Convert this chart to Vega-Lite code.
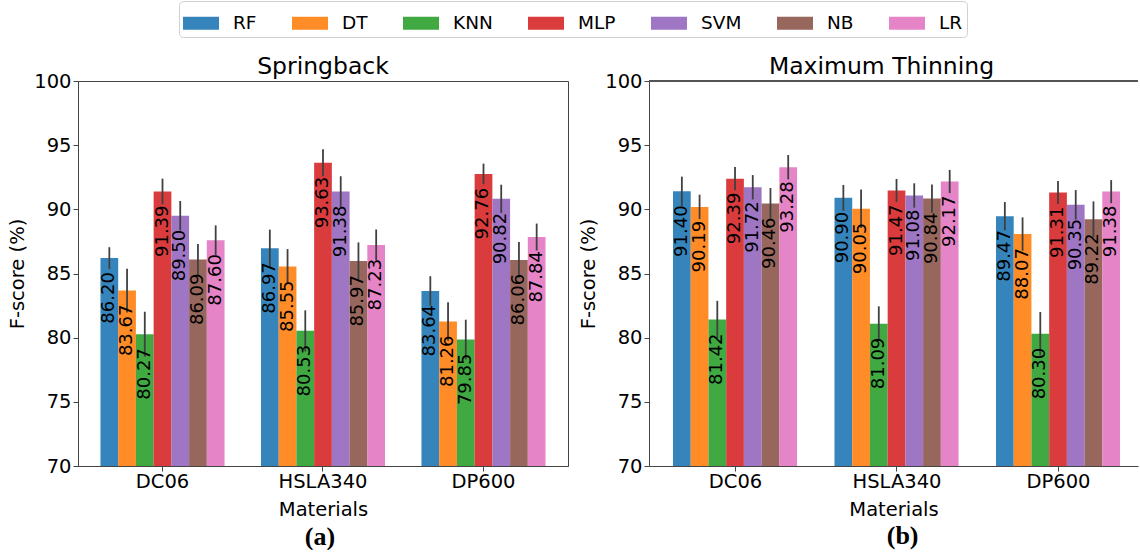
{
  "$schema": "https://vega.github.io/schema/vega-lite/v6.json",
  "padding": {"left": 7, "top": 0, "right": 0, "bottom": 0},
  "background": "white",
  "data": {"values": [
    {"task": "Springback", "material": "DC06", "model": "RF", "score": 86.20, "lo": 85.35, "hi": 87.05},
    {"task": "Springback", "material": "DC06", "model": "DT", "score": 83.67, "lo": 81.97, "hi": 85.37},
    {"task": "Springback", "material": "DC06", "model": "KNN", "score": 80.27, "lo": 78.52, "hi": 82.02},
    {"task": "Springback", "material": "DC06", "model": "MLP", "score": 91.39, "lo": 90.39, "hi": 92.39},
    {"task": "Springback", "material": "DC06", "model": "SVM", "score": 89.50, "lo": 88.35, "hi": 90.65},
    {"task": "Springback", "material": "DC06", "model": "NB", "score": 86.09, "lo": 84.89, "hi": 87.29},
    {"task": "Springback", "material": "DC06", "model": "LR", "score": 87.60, "lo": 86.45, "hi": 88.75},
    {"task": "Springback", "material": "HSLA340", "model": "RF", "score": 86.97, "lo": 85.52, "hi": 88.42},
    {"task": "Springback", "material": "HSLA340", "model": "DT", "score": 85.55, "lo": 84.20, "hi": 86.90},
    {"task": "Springback", "material": "HSLA340", "model": "KNN", "score": 80.53, "lo": 78.93, "hi": 82.13},
    {"task": "Springback", "material": "HSLA340", "model": "MLP", "score": 93.63, "lo": 92.58, "hi": 94.68},
    {"task": "Springback", "material": "HSLA340", "model": "SVM", "score": 91.38, "lo": 90.18, "hi": 92.58},
    {"task": "Springback", "material": "HSLA340", "model": "NB", "score": 85.97, "lo": 84.52, "hi": 87.42},
    {"task": "Springback", "material": "HSLA340", "model": "LR", "score": 87.23, "lo": 86.03, "hi": 88.43},
    {"task": "Springback", "material": "DP600", "model": "RF", "score": 83.64, "lo": 82.49, "hi": 84.79},
    {"task": "Springback", "material": "DP600", "model": "DT", "score": 81.26, "lo": 79.76, "hi": 82.76},
    {"task": "Springback", "material": "DP600", "model": "KNN", "score": 79.85, "lo": 78.30, "hi": 81.40},
    {"task": "Springback", "material": "DP600", "model": "MLP", "score": 92.76, "lo": 91.96, "hi": 93.56},
    {"task": "Springback", "material": "DP600", "model": "SVM", "score": 90.82, "lo": 89.72, "hi": 91.92},
    {"task": "Springback", "material": "DP600", "model": "NB", "score": 86.06, "lo": 84.66, "hi": 87.46},
    {"task": "Springback", "material": "DP600", "model": "LR", "score": 87.84, "lo": 86.79, "hi": 88.89},
    {"task": "Maximum Thinning", "material": "DC06", "model": "RF", "score": 91.40, "lo": 90.25, "hi": 92.55},
    {"task": "Maximum Thinning", "material": "DC06", "model": "DT", "score": 90.19, "lo": 89.24, "hi": 91.14},
    {"task": "Maximum Thinning", "material": "DC06", "model": "KNN", "score": 81.42, "lo": 79.97, "hi": 82.87},
    {"task": "Maximum Thinning", "material": "DC06", "model": "MLP", "score": 92.39, "lo": 91.49, "hi": 93.29},
    {"task": "Maximum Thinning", "material": "DC06", "model": "SVM", "score": 91.72, "lo": 90.77, "hi": 92.67},
    {"task": "Maximum Thinning", "material": "DC06", "model": "NB", "score": 90.46, "lo": 89.26, "hi": 91.66},
    {"task": "Maximum Thinning", "material": "DC06", "model": "LR", "score": 93.28, "lo": 92.33, "hi": 94.23},
    {"task": "Maximum Thinning", "material": "HSLA340", "model": "RF", "score": 90.90, "lo": 89.90, "hi": 91.90},
    {"task": "Maximum Thinning", "material": "HSLA340", "model": "DT", "score": 90.05, "lo": 88.55, "hi": 91.55},
    {"task": "Maximum Thinning", "material": "HSLA340", "model": "KNN", "score": 81.09, "lo": 79.74, "hi": 82.44},
    {"task": "Maximum Thinning", "material": "HSLA340", "model": "MLP", "score": 91.47, "lo": 90.57, "hi": 92.37},
    {"task": "Maximum Thinning", "material": "HSLA340", "model": "SVM", "score": 91.08, "lo": 90.13, "hi": 92.03},
    {"task": "Maximum Thinning", "material": "HSLA340", "model": "NB", "score": 90.84, "lo": 89.74, "hi": 91.94},
    {"task": "Maximum Thinning", "material": "HSLA340", "model": "LR", "score": 92.17, "lo": 91.27, "hi": 93.07},
    {"task": "Maximum Thinning", "material": "DP600", "model": "RF", "score": 89.47, "lo": 88.37, "hi": 90.57},
    {"task": "Maximum Thinning", "material": "DP600", "model": "DT", "score": 88.07, "lo": 86.77, "hi": 89.37},
    {"task": "Maximum Thinning", "material": "DP600", "model": "KNN", "score": 80.30, "lo": 78.60, "hi": 82.00},
    {"task": "Maximum Thinning", "material": "DP600", "model": "MLP", "score": 91.31, "lo": 90.41, "hi": 92.21},
    {"task": "Maximum Thinning", "material": "DP600", "model": "SVM", "score": 90.35, "lo": 89.20, "hi": 91.50},
    {"task": "Maximum Thinning", "material": "DP600", "model": "NB", "score": 89.22, "lo": 87.82, "hi": 90.62},
    {"task": "Maximum Thinning", "material": "DP600", "model": "LR", "score": 91.38, "lo": 90.48, "hi": 92.28}
  ]},
  "spacing": 9,
  "resolve": {"scale": {"color": "shared"}, "legend": {"color": "shared"}},
  "hconcat": [
    {
      "title": {"text": "(a)", "orient": "bottom", "font": "Liberation Serif", "fontSize": 26, "fontWeight": "bold", "offset": 4, "anchor": "middle", "dx": 32},
      "vconcat": [
        {
          "width": 490,
          "height": 385,
          "title": {"text": "Springback", "offset": -7},
          "transform": [{"filter": "datum.task === 'Springback'"}],
          "layer": [
            {
              "mark": {"type": "bar", "opacity": 0.9, "clip": true},
              "encoding": {
                "x": {"field": "material", "type": "nominal", "sort": ["DC06", "HSLA340", "DP600"], "title": "Materials",
                      "scale": {"paddingInner": 0.227, "paddingOuter": 0.14}, "axis": {"labelAngle": 0}},
                "xOffset": {"field": "model", "type": "nominal", "sort": ["RF", "DT", "KNN", "MLP", "SVM", "NB", "LR"],
                            "scale": {"paddingInner": 0, "paddingOuter": 0}},
                "y": {"field": "score", "type": "quantitative", "title": "F-score (%)",
                      "scale": {"domain": [70, 100], "zero": false},
                      "axis": {"values": [70, 75, 80, 85, 90, 95, 100]}},
                "color": {"field": "model", "type": "nominal", "sort": ["RF", "DT", "KNN", "MLP", "SVM", "NB", "LR"],
                          "scale": {"domain": ["RF", "DT", "KNN", "MLP", "SVM", "NB", "LR"],
                                    "range": ["#1f77b4", "#ff7f0e", "#2ca02c", "#d62728", "#9467bd", "#8c564b", "#e377c2"]},
                          "legend": {"title": null}}
              }
            },
            {
              "mark": {"type": "rule", "color": "#404040", "strokeWidth": 1.8},
              "encoding": {
                "x": {"field": "material", "type": "nominal", "sort": ["DC06", "HSLA340", "DP600"], "title": "Materials",
                      "scale": {"paddingInner": 0.227, "paddingOuter": 0.14}, "axis": {"labelAngle": 0}},
                "xOffset": {"field": "model", "type": "nominal", "sort": ["RF", "DT", "KNN", "MLP", "SVM", "NB", "LR"],
                            "scale": {"paddingInner": 0, "paddingOuter": 0}},
                "y": {"field": "lo", "type": "quantitative", "title": "F-score (%)", "scale": {"domain": [70, 100], "zero": false}},
                "y2": {"field": "hi"}
              }
            },
            {
              "mark": {"type": "text", "angle": 270, "align": "right", "baseline": "middle", "dx": -14, "fontSize": 18, "font": "DejaVu Sans", "color": "black"},
              "encoding": {
                "x": {"field": "material", "type": "nominal", "sort": ["DC06", "HSLA340", "DP600"], "title": "Materials",
                      "scale": {"paddingInner": 0.227, "paddingOuter": 0.14}, "axis": {"labelAngle": 0}},
                "xOffset": {"field": "model", "type": "nominal", "sort": ["RF", "DT", "KNN", "MLP", "SVM", "NB", "LR"],
                            "scale": {"paddingInner": 0, "paddingOuter": 0}},
                "y": {"field": "score", "type": "quantitative", "title": "F-score (%)", "scale": {"domain": [70, 100], "zero": false}},
                "text": {"field": "score", "type": "quantitative", "format": ".2f"}
              }
            }
          ]
        }
      ]
    },
    {
      "title": {"text": "(b)", "orient": "bottom", "font": "Liberation Serif", "fontSize": 26, "fontWeight": "bold", "offset": 4, "anchor": "middle", "dx": 44},
      "vconcat": [
        {
          "width": 489,
          "height": 385,
          "view": {"stroke": null},
          "title": {"text": "Maximum Thinning", "dx": -12, "offset": -7},
          "transform": [{"filter": "datum.task === 'Maximum Thinning'"}],
          "layer": [
            {
              "mark": {"type": "bar", "opacity": 0.9, "clip": true},
              "encoding": {
                "x": {"field": "material", "type": "nominal", "sort": ["DC06", "HSLA340", "DP600"], "title": "Materials",
                      "scale": {"paddingInner": 0.226, "paddingOuter": 0.127, "align": 0.585}, "axis": {"labelAngle": 0}},
                "xOffset": {"field": "model", "type": "nominal", "sort": ["RF", "DT", "KNN", "MLP", "SVM", "NB", "LR"],
                            "scale": {"paddingInner": 0, "paddingOuter": 0}},
                "y": {"field": "score", "type": "quantitative", "title": "F-score (%)",
                      "scale": {"domain": [70, 100], "zero": false},
                      "axis": {"values": [70, 75, 80, 85, 90, 95, 100]}},
                "color": {"field": "model", "type": "nominal", "sort": ["RF", "DT", "KNN", "MLP", "SVM", "NB", "LR"],
                          "scale": {"domain": ["RF", "DT", "KNN", "MLP", "SVM", "NB", "LR"],
                                    "range": ["#1f77b4", "#ff7f0e", "#2ca02c", "#d62728", "#9467bd", "#8c564b", "#e377c2"]},
                          "legend": {"title": null}}
              }
            },
            {
              "mark": {"type": "rule", "color": "#404040", "strokeWidth": 1.8},
              "encoding": {
                "x": {"field": "material", "type": "nominal", "sort": ["DC06", "HSLA340", "DP600"], "title": "Materials",
                      "scale": {"paddingInner": 0.226, "paddingOuter": 0.127, "align": 0.585}, "axis": {"labelAngle": 0}},
                "xOffset": {"field": "model", "type": "nominal", "sort": ["RF", "DT", "KNN", "MLP", "SVM", "NB", "LR"],
                            "scale": {"paddingInner": 0, "paddingOuter": 0}},
                "y": {"field": "lo", "type": "quantitative", "title": "F-score (%)", "scale": {"domain": [70, 100], "zero": false}},
                "y2": {"field": "hi"}
              }
            },
            {
              "mark": {"type": "text", "angle": 270, "align": "right", "baseline": "middle", "dx": -14, "fontSize": 18, "font": "DejaVu Sans", "color": "black"},
              "encoding": {
                "x": {"field": "material", "type": "nominal", "sort": ["DC06", "HSLA340", "DP600"], "title": "Materials",
                      "scale": {"paddingInner": 0.226, "paddingOuter": 0.127, "align": 0.585}, "axis": {"labelAngle": 0}},
                "xOffset": {"field": "model", "type": "nominal", "sort": ["RF", "DT", "KNN", "MLP", "SVM", "NB", "LR"],
                            "scale": {"paddingInner": 0, "paddingOuter": 0}},
                "y": {"field": "score", "type": "quantitative", "title": "F-score (%)", "scale": {"domain": [70, 100], "zero": false}},
                "text": {"field": "score", "type": "quantitative", "format": ".2f"}
              }
            },
            {
              "mark": {"type": "rule", "color": "#555555", "strokeWidth": 1},
              "encoding": {"y": {"datum": 100, "scale": {"domain": [70, 100], "zero": false}}}
            }
          ]
        }
      ]
    }
  ],
  "config": {
    "font": "DejaVu Sans",
    "view": {"stroke": "#444444", "strokeWidth": 1},
    "title": {"font": "DejaVu Sans", "fontSize": 23.5, "fontWeight": "normal", "color": "black", "offset": 4},
    "axis": {
      "labelFont": "DejaVu Sans", "labelFontSize": 19.5, "labelColor": "black",
      "titleFont": "DejaVu Sans", "titleFontSize": 19.5, "titleFontWeight": "normal", "titleColor": "black",
      "domainColor": "#444444", "tickColor": "#444444", "tickSize": 5, "grid": false
    },
    "axisX": {"labelPadding": 1, "titlePadding": 10},
    "axisY": {"labelPadding": 2, "titlePadding": 6},
    "legend": {
      "orient": "top", "direction": "horizontal", "columns": 7,
      "symbolType": "M-1,-0.36H1V0.36H-1Z", "symbolSize": 1296, "symbolStrokeWidth": 0, "symbolOpacity": 0.9,
      "labelFont": "DejaVu Sans", "labelFontSize": 18.5, "labelColor": "black", "labelOffset": 14, "columnPadding": 35,
      "padding": 4, "strokeColor": "#d0d0d0", "cornerRadius": 4, "fillColor": "white", "offset": 17,
      "layout": {"top": {"anchor": "middle"}}
    }
  }
}
